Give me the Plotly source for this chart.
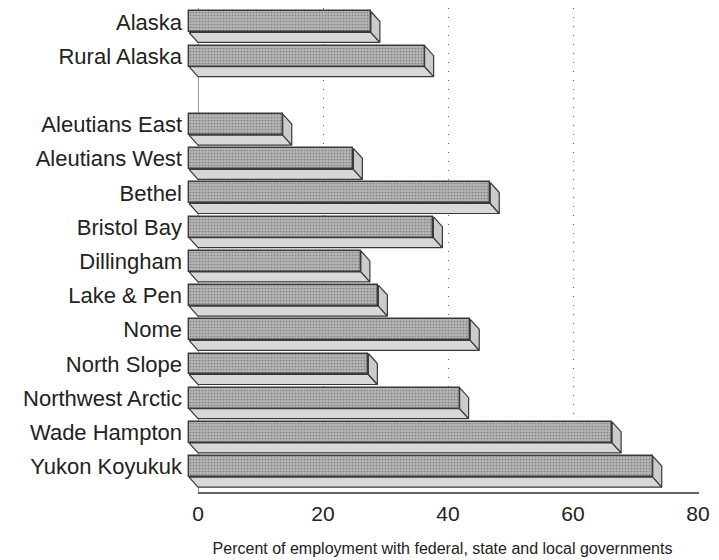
import plotly.graph_objects as go

# ---- data ----
state_names = ["Alaska", "Rural Alaska"]
state_values = [29.1, 37.7]
area_names = ["Aleutians East", "Aleutians West", "Bethel", "Bristol Bay", "Dillingham",
              "Lake & Pen", "Nome", "North Slope", "Northwest Arctic", "Wade Hampton",
              "Yukon Koyukuk"]
area_values = [15.0, 26.3, 48.2, 39.1, 27.5, 30.3, 45.0, 28.7, 43.3, 67.7, 74.2]
x_ticks = [0, 20, 40, 60, 80]
x_title = "Percent of employment with federal, state and local governments"

# ---- slot positions (one empty slot between the two groups) ----
names = state_names + area_names
values = state_values + area_values
slots = list(range(len(state_names))) + [len(state_names) + 1 + i for i in range(len(area_names))]

# pseudo-3D geometry (in data units)
HW = 0.307      # half height of the front face (slot units)
DY = 0.292      # depth offset downward (slot units)
DX = 1.44       # depth offset to the left of the front face (x units)

FONT = "Liberation Sans, Arial, Helvetica, sans-serif"
EDGE = "#3a3a3a"

fig = go.Figure()

# bottom faces
bx, by = [], []
for v, k in zip(values, slots):
    bx += [-DX, v - DX, v, 0, -DX, None]
    by += [k + HW, k + HW, k + HW + DY, k + HW + DY, k + HW, None]
fig.add_trace(go.Scatter(x=bx, y=by, mode="lines", fill="toself",
                         fillcolor="#d8d8d8", line=dict(color=EDGE, width=1.2),
                         hoverinfo="skip", showlegend=False))

# right side faces
sx, sy = [], []
for v, k in zip(values, slots):
    sx += [v - DX, v, v, v - DX, v - DX, None]
    sy += [k - HW, k - HW + DY, k + HW + DY, k + HW, k - HW, None]
fig.add_trace(go.Scatter(x=sx, y=sy, mode="lines", fill="toself",
                         fillcolor="#cbcbcb", line=dict(color=EDGE, width=1.2),
                         hoverinfo="skip", showlegend=False))

# front faces
fig.add_trace(go.Bar(
    x=values, y=slots, base=[-DX] * len(values), orientation="h",
    width=2 * HW,
    marker=dict(color="#ababab", line=dict(color=EDGE, width=1.4),
                pattern=dict(shape=".", size=3, solidity=0.25,
                             fgcolor="#808080", bgcolor="#b4b4b4", fillmode="replace")),
    hovertext=names, hoverinfo="text+x", showlegend=False))

fig.update_layout(
    width=711, height=552,
    margin=dict(l=178, r=20, t=0, b=67),
    paper_bgcolor="white", plot_bgcolor="white",
    font=dict(family=FONT, color="#222"),
    bargap=0,
    xaxis=dict(range=[-1.92, 80.16], tickvals=x_ticks, ticktext=[str(t) for t in x_ticks],
               tickfont=dict(size=21, family=FONT, color="#222"),
               showgrid=True, gridcolor="#666", gridwidth=1.3, griddash="1px,8px",
               zeroline=True, zerolinecolor="#999", zerolinewidth=1,
               showline=False, ticks="", ticklabelstandoff=6,
               title=dict(text=x_title, font=dict(size=16, family=FONT, color="#222"),
                          standoff=18)),
    yaxis=dict(range=[13.772, -0.409], tickvals=slots, ticktext=names,
               tickfont=dict(size=22, family=FONT, color="#222"),
               showgrid=False, zeroline=False, showline=False, ticks="",
               ticklabelstandoff=3),
    shapes=[dict(type="line", xref="x", yref="paper", x0=0, x1=80.16, y0=0, y1=0,
                 line=dict(color="#333", width=1.5), layer="above")],
)

fig.write_html("out.html")
